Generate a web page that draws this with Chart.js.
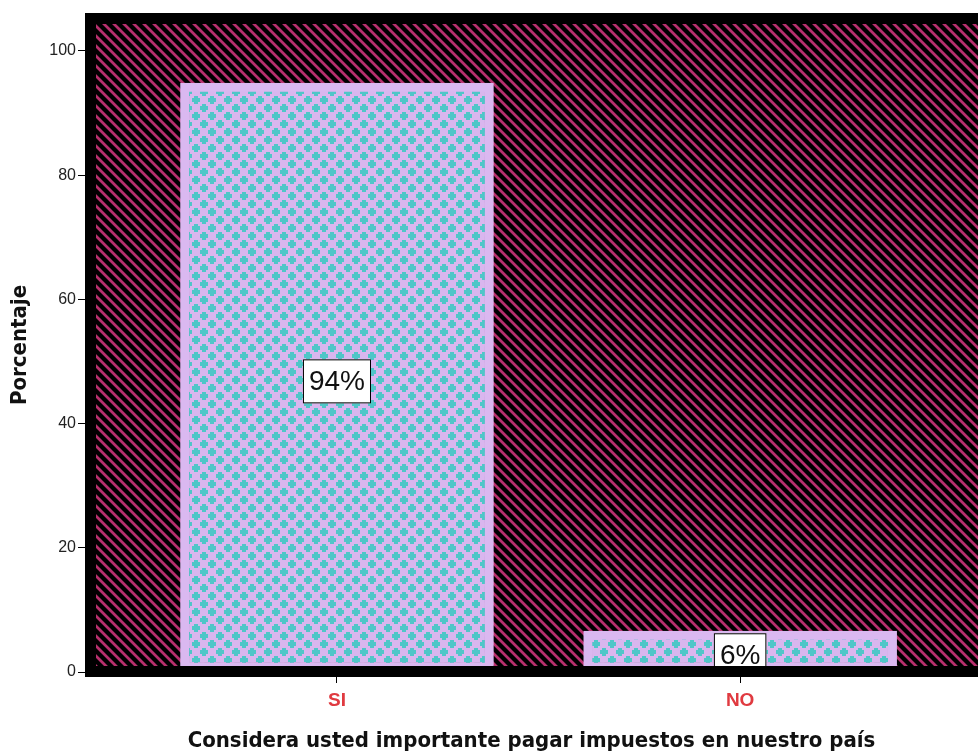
<!DOCTYPE html>
<html>
<head>
<meta charset="utf-8">
<script src="https://cdn.jsdelivr.net/npm/chart.js@4.4.0/dist/chart.umd.min.js"></script>
<style>
  html, body { margin: 0; padding: 0; background: #fff; }
  #wrap { width: 978px; height: 755px; }
</style>
</head>
<body>
<div id="wrap"><canvas id="grafico" width="978" height="755"></canvas></div>
<script>
const categorias = ['SI', 'NO'];
const porcentajes = [94.8, 6.6];
const etiquetas = ['94%', '6%'];
const ticksY = [0, 20, 40, 60, 80, 100];

// fondo rayado del area del grafico
function patronRayas() {
  const c = document.createElement('canvas');
  c.width = 10; c.height = 10;
  const g = c.getContext('2d');
  g.fillStyle = '#000';
  g.fillRect(0, 0, 10, 10);
  g.strokeStyle = '#b8306e';
  g.lineWidth = 2.8;
  g.beginPath();
  g.moveTo(-5, -5); g.lineTo(15, 15);
  g.moveTo(-15, -5); g.lineTo(5, 15);
  g.moveTo(5, -5); g.lineTo(25, 15);
  g.stroke();
  return g.createPattern(c, 'repeat');
}

// relleno de cruces para las barras
function patronCruces() {
  const c = document.createElement('canvas');
  c.width = 16; c.height = 16;
  const g = c.getContext('2d');
  g.fillStyle = '#d9b6ee';
  g.fillRect(0, 0, 16, 16);
  g.fillStyle = '#4fc6c8';
  [[4, 4], [12, 12]].forEach(([x, y]) => {
    g.fillRect(x - 4, y - 2, 8, 4);
    g.fillRect(x - 2, y - 4, 4, 8);
  });
  return g.createPattern(c, 'repeat');
}

const marco = {
  id: 'marco',
  beforeDatasetsDraw(chart) {
    const { ctx, chartArea: a } = chart;
    ctx.save();
    ctx.fillStyle = patronRayas();
    ctx.fillRect(a.left, a.top, a.right - a.left, a.bottom - a.top);
    ctx.restore();
  },
  afterDatasetsDraw(chart) {
    const { ctx, chartArea: a } = chart;
    const meta = chart.getDatasetMeta(0);
    ctx.save();
    ctx.beginPath();
    ctx.rect(a.left, a.top, a.right - a.left, a.bottom - a.top - 11);
    ctx.clip();
    ctx.font = '28px "Liberation Sans", Arial, sans-serif';
    ctx.textAlign = 'center';
    ctx.textBaseline = 'middle';
    meta.data.forEach((bar, i) => {
      const txt = etiquetas[i];
      const w = ctx.measureText(txt).width + 12;
      const h = 44;
      const cy = (bar.y + bar.base) / 2 + 4;
      ctx.fillStyle = '#fff';
      ctx.fillRect(bar.x - w / 2, cy - h / 2, w, h);
      ctx.strokeStyle = '#000';
      ctx.lineWidth = 1;
      ctx.strokeRect(bar.x - w / 2 + 0.5, cy - h / 2 + 0.5, w - 1, h - 1);
      ctx.fillStyle = '#111';
      ctx.fillText(txt, bar.x, cy + 1);
    });
    ctx.restore();
    ctx.save();
    ctx.strokeStyle = '#000';
    ctx.lineWidth = 11;
    ctx.strokeRect(a.left + 5.5, a.top + 5.5, a.right - a.left + 20, a.bottom - a.top - 11);
    ctx.restore();
  }
};

new Chart(document.getElementById('grafico'), {
  type: 'bar',
  data: {
    datasets: [{
      data: categorias.map((c, i) => ({ x: i, y: porcentajes[i] })),
      backgroundColor: patronCruces(),
      borderColor: '#dab8f0',
      borderWidth: 9,
      borderSkipped: false,
      barThickness: 313
    }]
  },
  options: {
    responsive: false,
    animation: false,
    layout: { padding: { top: 13, right: 0, left: 0, bottom: 0 } },
    plugins: { legend: { display: false }, tooltip: { enabled: false } },
    scales: {
      x: {
        type: 'linear',
        offset: false,
        min: -0.625,
        max: 1.59,
        afterBuildTicks: s => { s.ticks = categorias.map((c, i) => ({ value: i })); },
        afterFit: s => { s.height = 78; },
        grid: { offset: false, drawOnChartArea: false, drawTicks: true, tickLength: 6, color: '#000' },
        border: { display: false },
        ticks: {
          callback: v => categorias[v],
          color: '#e03a40',
          font: { family: 'Liberation Sans, Arial, sans-serif', size: 19, weight: 'bold' },
          padding: 6,
          maxRotation: 0
        },
        title: {
          display: true,
          text: 'Considera usted importante pagar impuestos en nuestro país',
          color: '#111',
          font: { family: 'DejaVu Sans Condensed, DejaVu Sans, sans-serif', size: 22, weight: 'bold' },
          padding: { top: 0, bottom: 1 }
        }
      },
      y: {
        min: -0.8,
        max: 106.1,
        afterBuildTicks: s => { s.ticks = ticksY.map(v => ({ value: v })); },
        afterFit: s => { s.width = 85; },
        grid: { drawOnChartArea: false, drawTicks: true, tickLength: 7, color: '#000' },
        border: { display: false },
        ticks: {
          color: '#222',
          font: { family: 'Liberation Sans, Arial, sans-serif', size: 16 },
          padding: 2
        },
        title: {
          display: true,
          text: 'Porcentaje',
          color: '#111',
          font: { family: 'DejaVu Sans Condensed, DejaVu Sans, sans-serif', size: 22, weight: 'bold' },
          padding: { top: 7, bottom: 0 }
        }
      }
    }
  },
  plugins: [marco]
});
</script>
</body>
</html>
